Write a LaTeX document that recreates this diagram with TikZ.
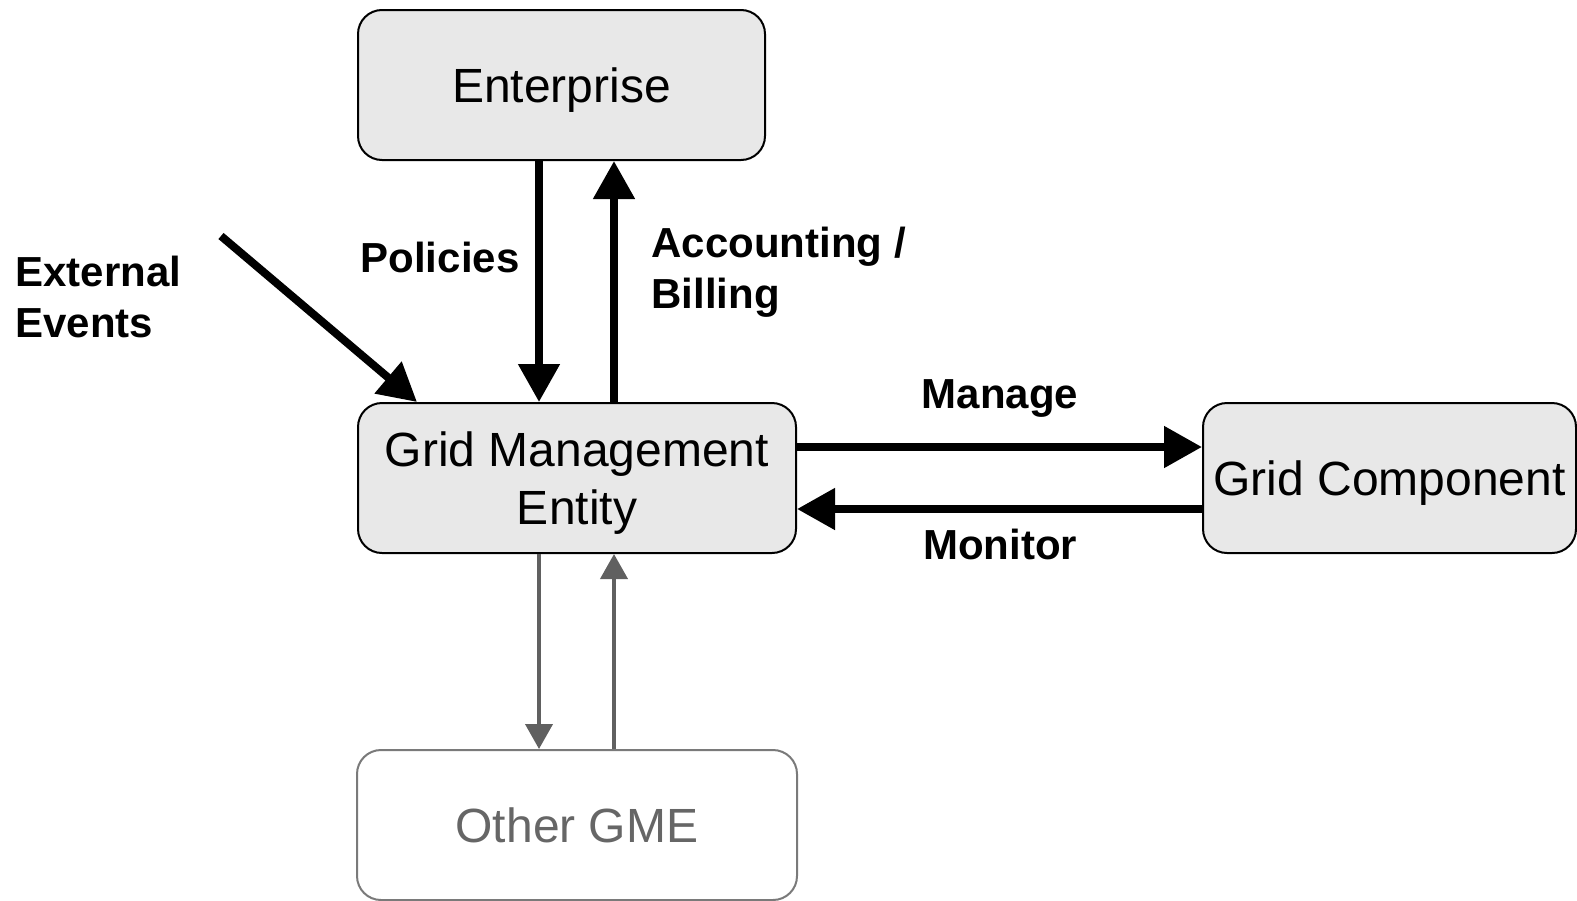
\documentclass[tikz,border=0pt]{standalone}
\usepackage{fontspec}
\setmainfont{Liberation Sans}
\usetikzlibrary{arrows.meta}
\definecolor{boxfill}{HTML}{E8E8E8}
\definecolor{grayline}{HTML}{606060}
\definecolor{graytext}{HTML}{666666}
\definecolor{grayborder}{HTML}{7A7A7A}
\tikzset{
  box/.style={draw=black, line width=1pt, fill=boxfill, rounded corners=12pt,
    inner sep=0pt, align=center, text depth=0pt, font=\fontsize{24}{29}\selectfont},
  ghostbox/.style={box, draw=grayborder, fill=white, text=graytext},
  bigarrow/.style={line width=4pt, -{Triangle[length=19pt,width=20pt]}},
  grayarrow/.style={line width=2pt, draw=grayline, -{Triangle[length=12.5pt,width=13.5pt]}},
  lbl/.style={inner sep=0pt, font=\fontsize{21}{25.5}\selectfont\bfseries},
}
\begin{document}
\begin{tikzpicture}[x=0.5pt, y=-0.5pt]
\useasboundingbox (0,0) rectangle (1577,900);
\node[box, minimum width=203.5pt, minimum height=75pt] (ent) at (561.5,85) {Enterprise};
\node[box, minimum width=219pt, minimum height=75pt] (gme) at (577,478) {Grid Management\\Entity};
\node[box, minimum width=186.5pt, minimum height=75pt] (gc) at (1389.5,478) {Grid Component};
\node[ghostbox, minimum width=220pt, minimum height=75pt] (oth) at (577,825) {Other GME};

\coordinate (extstart) at (221,236);
\draw[bigarrow] (extstart) -- (417,0 |- gme.north);
\draw[bigarrow] (539,0 |- ent.south) -- (539,0 |- gme.north);
\draw[bigarrow] (614,0 |- gme.north) -- (614,0 |- ent.south);
\draw[bigarrow] (gme.east |- 0,447) -- (gc.west |- 0,447);
\draw[bigarrow] (gc.west |- 0,509) -- (gme.east |- 0,509);
\draw[grayarrow] (539,0 |- gme.south) -- (539,0 |- oth.north);
\draw[grayarrow] (614,0 |- oth.north) -- (614,0 |- gme.south);

\node[lbl, anchor=west, align=left] (extlbl) at (15,297) {External\\Events};
\node[lbl, anchor=base] (pol) at (440,272) {Policies};
\node[lbl, anchor=west, align=left] (acc) at (651,272) {Accounting /\\Billing};
\node[lbl, anchor=base] (man) at (1000,408) {Manage};
\node[lbl, anchor=base] (mon) at (1000,559) {Monitor};
\end{tikzpicture}
\end{document}
